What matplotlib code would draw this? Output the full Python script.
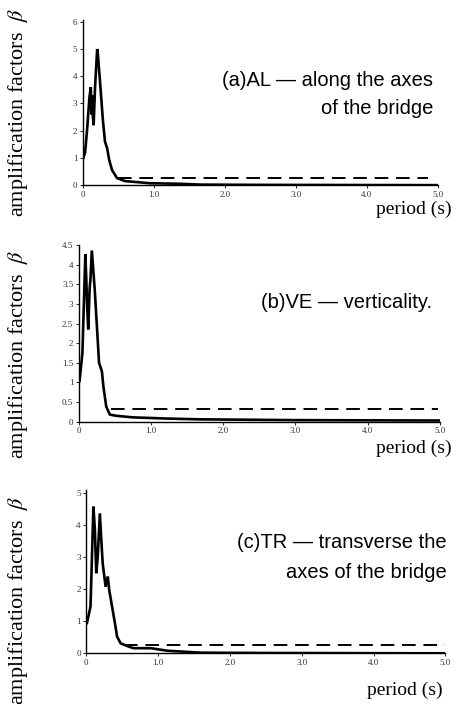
import numpy as np
import matplotlib.pyplot as plt

plt.rcParams['mathtext.fontset'] = 'stix'

# amplification factor spectra
period_al = [0.0, 0.03, 0.06, 0.09, 0.11, 0.12, 0.13, 0.14, 0.15, 0.17, 0.20, 0.21,
             0.24, 0.28, 0.31, 0.34, 0.37, 0.41, 0.48, 0.59, 0.94, 1.37, 1.65, 2.5, 5.0]
beta_al = [0.95, 1.2, 2.1, 3.2, 3.6, 2.6, 3.3, 2.5, 2.2, 3.6, 5.0, 4.8,
           3.8, 2.4, 1.6, 1.36, 0.92, 0.55, 0.26, 0.15, 0.07, 0.05, 0.02, 0.01, 0.0]

period_ve = [0.0, 0.01, 0.05, 0.09, 0.105, 0.115, 0.13, 0.15, 0.16, 0.18, 0.22, 0.25,
             0.28, 0.32, 0.34, 0.38, 0.43, 0.52, 0.75, 1.22, 1.68, 3.0, 5.0]
beta_ve = [1.0, 1.03, 1.76, 4.27, 3.55, 2.95, 2.35, 3.4, 3.6, 4.36, 3.37, 2.44,
           1.5, 1.28, 0.9, 0.38, 0.18, 0.15, 0.11, 0.08, 0.06, 0.04, 0.03]

period_tr = [0.0, 0.01, 0.06, 0.10, 0.12, 0.14, 0.16, 0.19, 0.21, 0.23, 0.27, 0.30,
             0.32, 0.36, 0.40, 0.43, 0.48, 0.59, 0.66, 0.90, 1.13, 1.6, 2.5, 5.0]
beta_tr = [0.94, 0.94, 1.46, 4.58, 3.9, 2.5, 3.0, 4.37, 3.54, 2.8, 2.08, 2.4,
           1.98, 1.46, 0.94, 0.52, 0.31, 0.21, 0.16, 0.16, 0.08, 0.02, 0.01, 0.0]

# dashed reference levels (start, end) and value
dash_al = ([0.49, 4.86], 0.26)
dash_ve = ([0.45, 4.97], 0.32)
dash_tr = ([0.52, 5.0], 0.25)

yticks_al = [0, 1, 2, 3, 4, 5, 6]
yticks_ve = [0, 0.5, 1, 1.5, 2, 2.5, 3, 3.5, 4, 4.5]
yticklabels_ve = ["0", "0.5", "1", "1.5", "2", "2.5", "3", "3.5", "4", "4.5"]
yticks_tr = [0, 1, 2, 3, 4, 5]
xticks = [0, 1, 2, 3, 4, 5]
xticklabels = ["0", "1.0", "2.0", "3.0", "4.0", "5.0"]

fig = plt.figure(figsize=(4.61, 7.04), dpi=100)

panels = [
    # rect, x, y, dash, ytop, yticks, yticklabels, title lines, title y (px),
    # title right x, period y, period right x, ylabel centre y
    ([0.180, 0.737, 0.770, 0.234], period_al, beta_al, dash_al, 6.05, yticks_al,
     [str(v) for v in yticks_al], ["(a)AL — along the axes", "of the bridge"],
     [80, 108], 433, 209, 452, 112),
    ([0.171, 0.401, 0.783, 0.251], period_ve, beta_ve, dash_ve, 4.5, yticks_ve,
     yticklabels_ve, ["(b)VE — verticality."], [302], 432, 448, 452, 354),
    ([0.187, 0.072, 0.779, 0.232], period_tr, beta_tr, dash_tr, 5.1, yticks_tr,
     [str(v) for v in yticks_tr], ["(c)TR — transverse the", "axes of the bridge"],
     [543, 573], 447, 690, 443, 600),
]

W, H = 461.0, 704.0
for rect, px, by, dash, ytop, yt, ytl, title, ty, tx, py_, px_lab, ylab_y in panels:
    ax = fig.add_axes(rect)
    ax.plot(px, by, color="black", lw=1.9, solid_joinstyle="miter")
    ax.plot(dash[0], [dash[1], dash[1]], color="black", lw=1.4, dashes=(7, 4))
    ax.set_xlim(0, 5.0)
    ax.set_ylim(0, ytop)
    ax.set_xticks(xticks)
    ax.set_xticklabels(xticklabels)
    ax.set_yticks(yt)
    ax.set_yticklabels(ytl)
    for s in ["top", "right"]:
        ax.spines[s].set_visible(False)
    for s in ["left", "bottom"]:
        ax.spines[s].set_linewidth(1.0)
    ax.tick_params(length=2, width=0.6, labelsize=6.5, pad=2,
                   labelcolor="#333333")
    for lab in ax.get_xticklabels() + ax.get_yticklabels():
        lab.set_family("Liberation Serif")

    for line, yy in zip(title, ty):
        fig.text(tx / W, 1 - yy / H, line, ha="right", va="center",
                 family="Liberation Sans", fontsize=14.5)
    fig.text(px_lab / W, 1 - py_ / H, "period (s)", ha="right", va="center",
             family="Liberation Serif", fontsize=14)
    fig.text(18 / W, 1 - ylab_y / H, "amplification factors  $\\beta$", rotation=90,
             ha="center", va="center", family="Liberation Serif", fontsize=16)

fig.savefig("out.png", dpi=100)
